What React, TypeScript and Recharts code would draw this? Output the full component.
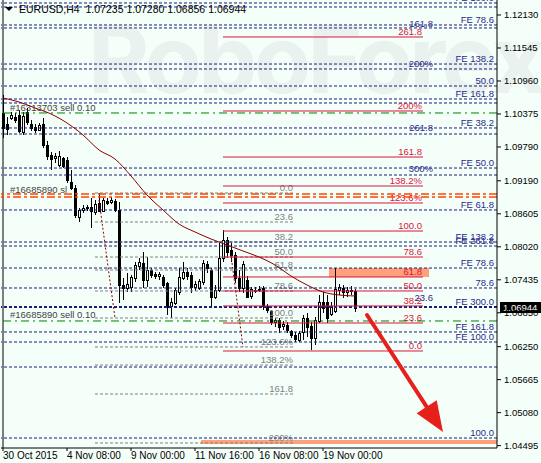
import React from "react";
import { ComposedChart, Bar, Line, XAxis, YAxis, ReferenceLine, ReferenceArea } from "recharts";

const FONT = "'Liberation Sans', Arial, sans-serif";
const FS = 9.5;
const BG = "#f5fffa";
const NAVY = "#1b1b78";
const NAVY_TEXT = "#2a2a8c";
const RED = "#dc143c";
const GRAY = "#808080";
const ORDER_TEXT = "#44443a";

// EURUSD H4 bars
const opens = [
  1.10393, 1.10197, 1.10304, 1.10322, 1.10357, 1.10056, 1.1041, 1.10197, 1.10144, 1.10091,
  1.10197, 1.09825, 1.09648, 1.09595, 1.09471, 1.09595, 1.09559, 1.09169, 1.09063, 1.08549,
  1.08673, 1.08708, 1.08726, 1.08637, 1.08797, 1.08655, 1.08832, 1.08815, 1.08832, 1.08673,
  1.07343, 1.0729, 1.07308, 1.07467, 1.0768, 1.07733, 1.07432, 1.07609, 1.07538, 1.07503,
  1.07485, 1.07379, 1.06971, 1.07024, 1.07219, 1.07467, 1.07574, 1.07521, 1.07308, 1.0729,
  1.07396, 1.07715, 1.07609, 1.0713, 1.07254, 1.07822, 1.08141, 1.07964, 1.07875, 1.07467,
  1.0729, 1.07432, 1.07148, 1.07254, 1.07254, 1.0729, 1.06971, 1.06882, 1.06687, 1.06723,
  1.06616, 1.06634, 1.06527, 1.06456, 1.06368, 1.0651, 1.06758, 1.06616, 1.06403, 1.06705,
  1.07042, 1.07042, 1.06829, 1.06882, 1.07254, 1.0729, 1.07219, 1.07254, 1.07235,
];
const highs = [
  1.10712, 1.10322, 1.1041, 1.10393, 1.10446, 1.1041, 1.10481, 1.10268, 1.10197, 1.10215,
  1.10304, 1.09896, 1.09701, 1.09683, 1.09719, 1.09612, 1.09612, 1.09382, 1.09116, 1.08708,
  1.08761, 1.08761, 1.08885, 1.0885, 1.08974, 1.08885, 1.08885, 1.08903, 1.08868, 1.08815,
  1.07467, 1.07556, 1.07521, 1.07751, 1.07822, 1.07928, 1.07839, 1.07644, 1.07574, 1.07574,
  1.07521, 1.07396, 1.07113, 1.0729, 1.07644, 1.07751, 1.07644, 1.07574, 1.07414, 1.0745,
  1.07786, 1.07769, 1.07644, 1.07343, 1.08088, 1.08318, 1.08194, 1.08088, 1.07928, 1.07609,
  1.07769, 1.07503, 1.07308, 1.07308, 1.07325, 1.07325, 1.07006, 1.069, 1.06758, 1.06758,
  1.06705, 1.06687, 1.06545, 1.0651, 1.06527, 1.06811, 1.06847, 1.06687, 1.06776, 1.07166,
  1.07219, 1.07166, 1.07042, 1.07644, 1.07361, 1.07343, 1.07308, 1.07325, 1.0728,
];
const lows = [
  1.09949, 1.10003, 1.10268, 1.10215, 1.10038, 1.10003, 1.1018, 1.10073, 1.10038, 1.10073,
  1.09772, 1.09559, 1.09382, 1.09506, 1.09435, 1.09417, 1.09151, 1.09027, 1.08531, 1.0846,
  1.0862, 1.08655, 1.08354, 1.08584, 1.08637, 1.08637, 1.08761, 1.08779, 1.08637, 1.07024,
  1.07077, 1.07219, 1.07219, 1.07396, 1.07609, 1.0729, 1.07308, 1.07467, 1.0745, 1.07432,
  1.0729, 1.06811, 1.06758, 1.06989, 1.07166, 1.07432, 1.07432, 1.07201, 1.07237, 1.07254,
  1.07343, 1.07556, 1.06935, 1.07095, 1.07219, 1.07751, 1.07822, 1.07751, 1.07379, 1.07219,
  1.07201, 1.07113, 1.07095, 1.07201, 1.07219, 1.069, 1.06847, 1.06634, 1.06598, 1.06492,
  1.06545, 1.06492, 1.06403, 1.06332, 1.06332, 1.06368, 1.06421, 1.06191, 1.06279, 1.06669,
  1.06847, 1.06669, 1.06793, 1.06847, 1.07166, 1.07113, 1.0713, 1.07166, 1.06856,
];
const closes = [
  1.10127, 1.10109, 1.10357, 1.10268, 1.10073, 1.10339, 1.10233, 1.10127, 1.10091, 1.1018,
  1.09825, 1.0963, 1.09577, 1.0963, 1.0963, 1.09453, 1.09205, 1.09063, 1.08584, 1.08673,
  1.08708, 1.08726, 1.08655, 1.08779, 1.08655, 1.0885, 1.08797, 1.0885, 1.08673, 1.07343,
  1.0729, 1.07361, 1.07485, 1.07698, 1.07751, 1.07432, 1.07609, 1.07521, 1.07503, 1.07538,
  1.07343, 1.06953, 1.07042, 1.07254, 1.07485, 1.07574, 1.07503, 1.07308, 1.07361, 1.07414,
  1.07733, 1.07644, 1.0713, 1.07254, 1.07822, 1.08141, 1.07928, 1.07875, 1.07467, 1.0729,
  1.07715, 1.0713, 1.07272, 1.07237, 1.07272, 1.06971, 1.069, 1.06687, 1.06723, 1.06598,
  1.06652, 1.06545, 1.06456, 1.06386, 1.06492, 1.06758, 1.06598, 1.06403, 1.06723, 1.07042,
  1.06935, 1.06758, 1.06971, 1.07272, 1.07308, 1.07219, 1.07254, 1.07237, 1.06944,
];
// moving average, one reading every 4th bar
const maValues = [
  1.10659, 1.10588, 1.10481, 1.10375, 1.10215, 1.10003, 1.09737, 1.09577, 1.09276, 1.08939,
  1.08673, 1.08424, 1.08283, 1.08159, 1.08052, 1.07946, 1.07839, 1.07698, 1.07503, 1.07343,
  1.07219, 1.07166, 1.07148,
];

const SLOTS = 124; // bars + empty space on the right
const timeTicks = [0, 16, 32, 48, 64, 80];
const timeLabels = ["30 Oct 2015", "4 Nov 08:00", "9 Nov 00:00", "11 Nov 16:00", "16 Nov 08:00", "19 Nov 00:00"];
const priceTicks = [
  1.1213, 1.11545, 1.1096, 1.10375, 1.0979, 1.0919, 1.08605, 1.0802, 1.07435, 1.0685, 1.0625, 1.05665, 1.0508, 1.04495,
];

// fibo expansion levels, full width
const feLevels = [
  1.12343, 1.12272, 1.11953, 1.119, 1.11261, 1.11173, 1.10871, 1.10641, 1.1057, 1.10127, 1.1002, 1.09417,
  1.09293, 1.08673, 1.08105, 1.08034, 1.07644, 1.0729, 1.06953, 1.0651, 1.06332, 1.05889, 1.0463,
];
const feTags = [
  "FE 100.0", "", "FE 78.6", "", "FE 138.2", "", "50.0", "FE 161.8", "", "FE 38.2", "", "FE 50.0",
  "", "FE 61.8", "FE 138.2", "FE 261.8", "FE 78.6", "78.6", "FE 300.0", "FE 161.8", "FE 100.0", "", "100.0",
];
const midTagLevels = [1.11988, 1.11279, 1.10127, 1.094, 1.0713];
const midTags = ["161.8", "200%", "261.8", "300%", "23.6"];

// red fibo (bars 55..105)
const redLevels = [1.1174, 1.10428, 1.09612, 1.09098, 1.08797, 1.083, 1.07839, 1.07485, 1.07237, 1.06971, 1.06669, 1.06173];
const redTags = ["261.8", "200%", "161.8", "138.2%", "123.6%", "100.0", "78.6", "61.8", "50.0", "38.2", "23.6", "0.0"];

// gray fibo (bars 23..73)
const grayLevels = [1.08974, 1.0846, 1.08105, 1.07839, 1.07609, 1.07237, 1.06758, 1.06244, 1.05924, 1.0541, 1.04542];
const grayTags = ["0.0", "23.6", "38.2", "50.0", "61.8", "78.6", "100.0", "123.6%", "138.2%", "161.8", "200%"];

const fmt = (v: number) => v.toFixed(5);
const last = opens.length - 1;

const data = Array.from({ length: SLOTS }, (_, i) =>
  i < opens.length
    ? {
        i,
        o: opens[i],
        h: highs[i],
        l: lows[i],
        c: closes[i],
        range: [lows[i], highs[i]],
        ma: i % 4 === 0 ? maValues[i / 4] : null,
      }
    : { i },
);

const tag = (text: string, color: string, side: "start" | "end", dx: number, dy: number) =>
  function TagLabel(props: any) {
    const vb = props.viewBox;
    if (!vb || vb.x == null) return null;
    const w = vb.width ?? 0;
    const x = side === "end" ? vb.x + w + dx : vb.x + dx;
    return (
      <text x={x} y={vb.y + dy} textAnchor={side} fill={color} fontSize={FS} fontFamily={FONT}>
        {text}
      </text>
    );
  };

const priceBox = (props: any) => {
  const vb = props.viewBox;
  if (!vb || vb.x == null) return null;
  const x = vb.x + (vb.width ?? 0) + 3;
  return (
    <g>
      <rect x={x} y={vb.y - 5.5} width={44} height={11} fill="#000" />
      <text x={x + 3} y={vb.y + 3.5} fill="#fff" fontSize={FS} fontFamily={FONT}>
        {fmt(closes[last])}
      </text>
    </g>
  );
};

const Candle = (props: any) => {
  const { x, y, width, height, payload } = props;
  if (!payload || payload.o == null) return null;
  const { o, h, l, c } = payload;
  const top0 = Math.min(y, y + height);
  const hh = Math.abs(height);
  const span = h - l || 1e-9;
  const py = (v: number) => top0 + ((h - v) / span) * hh;
  const cx = Math.floor(x + width / 2) + 0.5;
  const bTop = Math.round(py(Math.max(o, c)));
  const bBot = Math.round(py(Math.min(o, c)));
  const bull = c >= o;
  return (
    <g>
      <line x1={cx} x2={cx} y1={Math.round(top0)} y2={Math.round(top0 + hh)} stroke="#000" strokeWidth={1} />
      <rect
        x={cx - 1}
        y={bTop + 0.5}
        width={2}
        height={Math.max(bBot - bTop, 0.01)}
        fill={bull ? BG : "#000"}
        stroke="#000"
        strokeWidth={1}
      />
    </g>
  );
};

const Arrow = (props: any) => {
  const { x1, y1, x2, y2 } = props;
  const dx = x2 - x1;
  const dy = y2 - y1;
  const len = Math.hypot(dx, dy) || 1;
  const ux = dx / len;
  const uy = dy / len;
  const bx = x2 - ux * 30;
  const by = y2 - uy * 30;
  const nx = -uy * 12;
  const ny = ux * 12;
  return (
    <g>
      <line x1={x1} y1={y1} x2={bx + ux * 4} y2={by + uy * 4} stroke="#e8201c" strokeWidth={4} strokeLinecap="round" />
      <polygon points={`${x2},${y2} ${bx + nx},${by + ny} ${bx - nx},${by - ny}`} fill="#e8201c" />
    </g>
  );
};

const TimeTick = (props: any) => {
  const { x, y, payload } = props;
  const k = timeTicks.indexOf(payload.value);
  return (
    <text x={x} y={y} dy={7} textAnchor="start" fontSize={FS + 0.5} fontFamily={FONT} fill="#000">
      {k >= 0 ? timeLabels[k] : ""}
    </text>
  );
};

export default function App() {
  return (
    <div style={{ position: "absolute", left: 0, top: 0, width: 541, height: 463, background: BG, overflow: "hidden" }}>
      <div
        style={{
          position: "absolute",
          left: 88,
          top: 2,
          fontFamily: "Inter, 'Open Sans', sans-serif",
          fontWeight: 700,
          fontSize: 94,
          letterSpacing: -4,
          color: "#e9f2ef",
          whiteSpace: "nowrap",
        }}
      >
        RoboForex
      </div>
      <div style={{ position: "absolute", left: 0, top: 0 }}>
        <ComposedChart width={541} height={463} data={data} margin={{ top: 0, right: 0, bottom: 0, left: 1 }}>
          <XAxis
            dataKey="i"
            type="category"
            ticks={timeTicks}
            interval={0}
            tick={<TimeTick />}
            tickSize={3}
            tickMargin={1}
            height={15}
            axisLine={{ stroke: "#000" }}
            tickLine={{ stroke: "#000" }}
          />
          <YAxis
            orientation="right"
            type="number"
            domain={[1.04453, 1.12396]}
            allowDataOverflow
            ticks={priceTicks}
            tickFormatter={fmt}
            width={44}
            tickSize={4}
            tickMargin={3}
            axisLine={{ stroke: "#000" }}
            tickLine={{ stroke: "#000" }}
            tick={{ fill: "#000", fontSize: FS, fontFamily: FONT }}
          />
          <ReferenceArea x1={82} x2={106} y1={1.07485} y2={1.07644} fill="#ffa07a" fillOpacity={1} stroke="none" />
          <ReferenceArea x1={50} x2={123} y1={1.04524} y2={1.04595} fill="#ffa07a" fillOpacity={1} stroke="none" />
          <ReferenceLine x={0} stroke="#000" />
          {grayLevels.map((lv, k) => (
            <ReferenceLine
              key={`g${k}`}
              segment={[{ x: 23, y: lv }, { x: 73, y: lv }]}
              stroke={GRAY}
              strokeDasharray="3 2"
              label={tag(grayTags[k], GRAY, "end", -2, -2)}
            />
          ))}
          {feLevels.map((lv, k) => (
            <ReferenceLine
              key={`f${k}`}
              y={lv}
              stroke={NAVY}
              strokeWidth={feTags[k] === "FE 300.0" ? 2 : 1}
              strokeDasharray="3 2"
              label={feTags[k] ? tag(feTags[k], NAVY_TEXT, "end", -3, -2) : undefined}
            />
          ))}
          {midTagLevels.map((lv, k) => (
            <ReferenceLine
              key={`m${k}`}
              segment={[{ x: 107, y: lv }, { x: 108, y: lv }]}
              stroke="none"
              label={tag(midTags[k], NAVY_TEXT, "end", -2, 3.5)}
            />
          ))}
          {redLevels.map((lv, k) => (
            <ReferenceLine
              key={`r${k}`}
              segment={[{ x: 55, y: lv }, { x: 105, y: lv }]}
              stroke={RED}
              label={tag(redTags[k], RED, "end", -1, -2)}
            />
          ))}
          <ReferenceLine
            y={1.10393}
            stroke="#008000"
            strokeDasharray="8 4 2 4"
            label={tag("#16313703 sell 0.10", ORDER_TEXT, "start", 9, -2)}
          />
          <ReferenceLine y={1.08956} stroke="#ff4500" strokeWidth={1.5} strokeDasharray="8 3 3 3" />
          <ReferenceLine
            y={1.08903}
            stroke="#ff4500"
            strokeWidth={1.5}
            strokeDasharray="8 3 3 3"
            label={tag("#16685890 sl", ORDER_TEXT, "start", 9, -4)}
          />
          <ReferenceLine
            y={1.06705}
            stroke="#008000"
            strokeDasharray="8 4 2 4"
            label={tag("#16685890 sell 0.10", ORDER_TEXT, "start", 9, -3)}
          />
          <ReferenceLine segment={[{ x: 24, y: 1.0885 }, { x: 28, y: 1.06758 }]} stroke="#8b0000" strokeDasharray="2 2" />
          <ReferenceLine segment={[{ x: 57, y: 1.07875 }, { x: 60, y: 1.06244 }]} stroke="#8b0000" strokeDasharray="2 2" />
          <Bar dataKey="range" barSize={3} shape={<Candle />} isAnimationActive={false} />
          <Line
            dataKey="ma"
            type="monotone"
            stroke="#8b0000"
            strokeWidth={1}
            dot={false}
            connectNulls
            isAnimationActive={false}
          />
          <ReferenceLine y={closes[last]} stroke="none" label={priceBox} />
          <ReferenceLine segment={[{ x: 91, y: 1.06811 }, { x: 110, y: 1.04737 }]} shape={Arrow} />
        </ComposedChart>
      </div>
      <div
        style={{
          position: "absolute",
          left: 5,
          top: 3,
          display: "flex",
          alignItems: "center",
          fontFamily: FONT,
          fontSize: 10.5,
          color: "#000",
          whiteSpace: "pre",
        }}
      >
        <span
          style={{
            width: 0,
            height: 0,
            borderLeft: "4px solid transparent",
            borderRight: "4px solid transparent",
            borderTop: "4px solid #000",
            marginRight: 6,
          }}
        />
        {`EURUSD,H4  ${fmt(opens[last])} ${fmt(highs[last])} ${fmt(lows[last])} ${fmt(closes[last])}`}
      </div>
    </div>
  );
}
